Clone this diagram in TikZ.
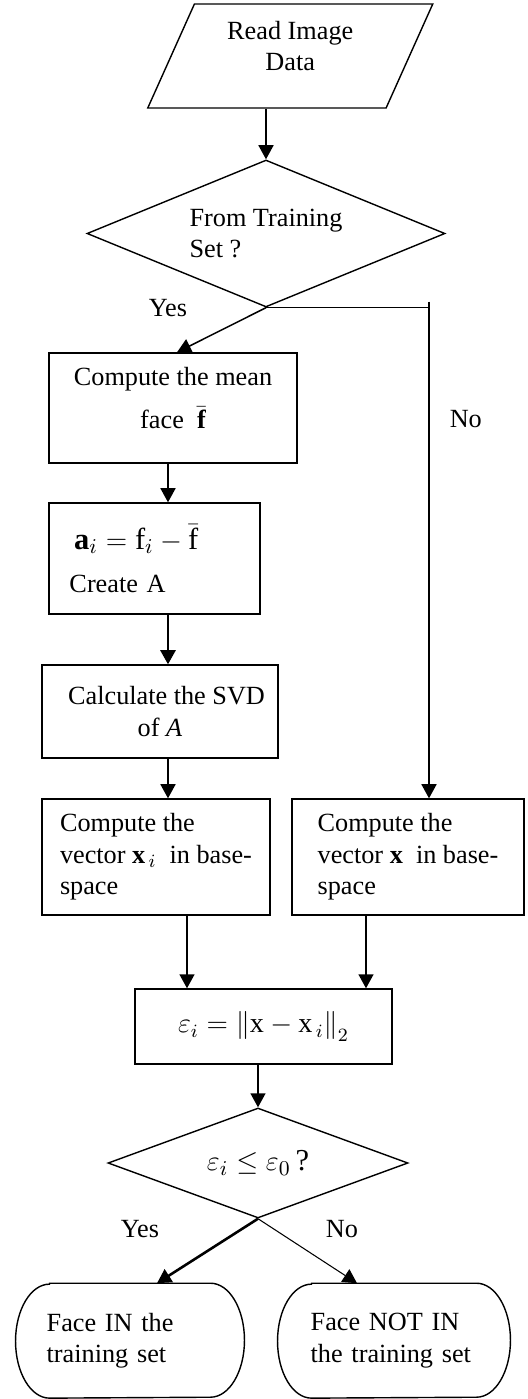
\documentclass[tikz,border=0pt]{standalone}
\usepackage{amsmath}
\usepackage{fontspec}
\setmainfont{Liberation Serif}
\usepackage{tikz}
\usetikzlibrary{arrows.meta,positioning,shapes.geometric}

\begin{document}
\begin{tikzpicture}[
	on grid,
	> = {Triangle[length=6pt,width=6.4pt]},
	every node/.style = {font=\fontsize{11.2}{13.4}\selectfont},
	box/.style = {draw, line width=0.6pt, rectangle, inner sep=3pt},
	decision/.style = {draw, line width=0.6pt, diamond, inner sep=1pt},
	io/.style = {draw, line width=0.6pt, trapezium, trapezium left angle=61.3,
		trapezium right angle=118.7, trapezium stretches body,
		minimum width=4.275cm, minimum height=1.56cm, align=center},
	term/.style = {rectangle, minimum height=1.71cm, text width=2.5cm, align=left},
	arrow/.style = {->, line width=0.65pt},
	big/.style = {font=\fontsize{13}{15}\selectfont}
	]
	\useasboundingbox (-4.354,0.84) rectangle (3.566,-20.145);
	\node[io, text depth=0.3cm] (read) {Read Image\\Data};
	\node[decision, shape aspect=2.4, minimum width=5.37cm, minimum height=2.205cm,
		align=left] (dec1) [below left=2.6625cm and 0.364cm of read] {From Training\\Set ?};
	\node[box, minimum width=3.72cm, minimum height=1.65cm, align=center, text depth=0.3cm] (mean)
		[below left=2.6175cm and 1.395cm of dec1] {Compute the mean\\[5pt]face\ \ $\bar{\mathbf{f}}$};
	\node[box, minimum width=3.165cm, minimum height=1.665cm, text width=2.55cm, align=left] (diff)
		[below left=2.2575cm and 0.2775cm of mean]
		{\hspace{2pt}{\fontsize{13}{15}\selectfont$\mathbf{a}_{i} = \mathrm{f}_{i} - \bar{\mathrm{f}}$}\\[5pt]Create A};
	\node[box, minimum width=3.54cm, minimum height=1.395cm, align=center] (svd)
		[below right=2.295cm and 0.0825cm of diff] {\ \ Calculate the SVD\\of \textit{A}};
	\node[box, minimum width=3.42cm, minimum height=1.74cm, align=left] (proj)
		[below left=2.1825cm and 0.06cm of svd] {Compute the\\vector $\mathbf{x}_{\,i}$\ \ in base-\\space};
	\node[box, minimum width=3.48cm, minimum height=1.74cm, align=left] (projx)
		[right=3.78cm of proj] {Compute the\\vector $\mathbf{x}$\ \ in base-\\space};
	\node[box, font=\fontsize{12}{14}\selectfont, minimum width=3.855cm, minimum height=1.125cm] (err)
		[below right=2.5425cm and 1.6125cm of proj]
		{$\varepsilon_{i} = \left\|\mathrm{x}-\mathrm{x}_{\,i}\right\|_{2}$\quad};
	\node[decision, big, shape aspect=2.7, minimum width=4.5cm, minimum height=1.65cm] (dec2)
		[below left=2.0475cm and 0.0825cm of err] {$\varepsilon_{i} \leq \varepsilon_{0}\,$?};
	\node[term, minimum width=3.42cm] (inset) [below left=2.665cm and 1.92cm of dec2]
		{Face IN the\\training set};
	\node[term, minimum width=3.48cm] (notin) [right=3.96cm of inset]
		{Face NOT IN\\the training set};

	% end boxes with curved sides
	\foreach \t in {inset,notin}
		\draw[line width=0.6pt] ([xshift=0.51cm]\t.north west) -- ([xshift=-0.51cm]\t.north east)
			arc[start angle=90, end angle=-90, x radius=0.51cm, y radius=0.855cm]
			-- ([xshift=0.51cm]\t.south west)
			arc[start angle=270, end angle=90, x radius=0.51cm, y radius=0.855cm] -- cycle;

	% branch labels
	\node (yes1) at ([xshift=-1.47cm]dec1.south) {Yes};
	\node (yes2) at ([xshift=-1.77cm,yshift=-0.15cm]dec2.south) {Yes};
	\node (no2) at ([xshift=1.26cm,yshift=-0.15cm]dec2.south) {No};

	% connectors
	\draw[arrow] (read.south -| dec1.north) -- (dec1.north);
	\draw[arrow] (dec1.south) -- ([xshift=0.06cm]mean.north);
	\coordinate (noX) at ([xshift=0.315cm]projx.north);
	\coordinate (noC) at (dec1.south -| noX);
	\draw[line width=0.65pt] (dec1.south) -- (noC);
	\draw[arrow] ([yshift=0.09cm]noC) -- (noX)
		node (no1) [pos=0.237, right=0.3cm, inner sep=0pt, anchor=west] {No};
	\coordinate (m1) at ([xshift=-0.075cm]mean.south);
	\draw[arrow] (m1) -- (m1 |- diff.north);
	\coordinate (d1) at ([xshift=0.2025cm]diff.south);
	\draw[arrow, line width=1.1pt] (d1) -- (d1 |- svd.north);
	\coordinate (s1) at ([xshift=0.12cm]svd.south);
	\draw[arrow] (s1) -- (s1 |- proj.north);
	\coordinate (p1) at ([xshift=0.465cm]proj.south);
	\draw[arrow] (p1) -- (p1 |- err.north);
	\coordinate (p2) at ([xshift=-0.63cm]projx.south);
	\draw[arrow] (p2) -- (p2 |- err.north);
	\draw[arrow] (err.south -| dec2.north) -- (dec2.north);
	\draw[arrow, line width=1.1pt] (dec2.south) -- ([xshift=0.405cm]inset.north);
	\draw[arrow, line width=0.45pt] (dec2.south) -- ([xshift=-0.555cm]notin.north);
\end{tikzpicture}
\end{document}
